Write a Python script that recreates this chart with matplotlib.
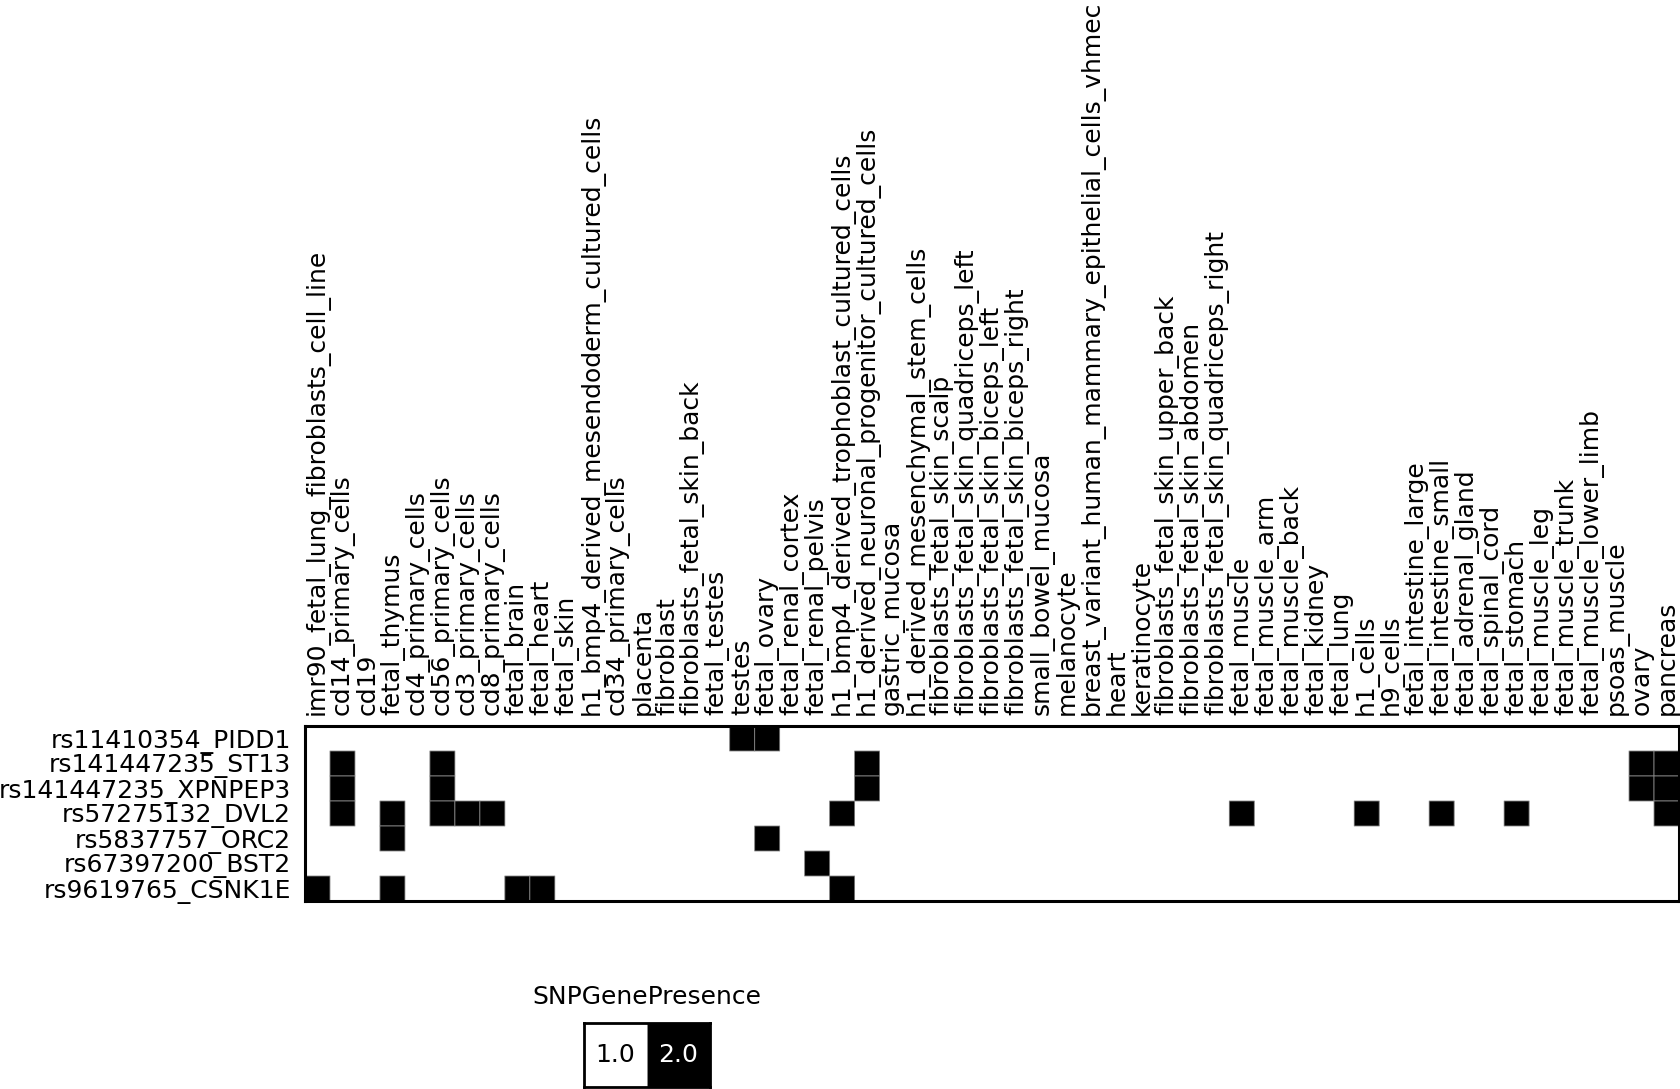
import numpy as np
import matplotlib
matplotlib.use("Agg")
import matplotlib.pyplot as plt
from matplotlib.colors import ListedColormap, BoundaryNorm

rows = ["rs11410354_PIDD1", "rs141447235_ST13", "rs141447235_XPNPEP3",
        "rs57275132_DVL2", "rs5837757_ORC2", "rs67397200_BST2", "rs9619765_CSNK1E"]

cols = ["imr90_fetal_lung_fibroblasts_cell_line", "cd14_primary_cells", "cd19",
        "fetal_thymus", "cd4_primary_cells", "cd56_primary_cells", "cd3_primary_cells",
        "cd8_primary_cells", "fetal_brain", "fetal_heart", "fetal_skin",
        "h1_bmp4_derived_mesendoderm_cultured_cells", "cd34_primary_cells", "placenta",
        "fibroblast", "fibroblasts_fetal_skin_back", "fetal_testes", "testes",
        "fetal_ovary", "fetal_renal_cortex", "fetal_renal_pelvis",
        "h1_bmp4_derived_trophoblast_cultured_cells",
        "h1_derived_neuronal_progenitor_cultured_cells", "gastric_mucosa",
        "h1_derived_mesenchymal_stem_cells", "fibroblasts_fetal_skin_scalp",
        "fibroblasts_fetal_skin_quadriceps_left", "fibroblasts_fetal_skin_biceps_left",
        "fibroblasts_fetal_skin_biceps_right", "small_bowel_mucosa", "melanocyte",
        "breast_variant_human_mammary_epithelial_cells_vhmec", "heart", "keratinocyte",
        "fibroblasts_fetal_skin_upper_back", "fibroblasts_fetal_skin_abdomen",
        "fibroblasts_fetal_skin_quadriceps_right", "fetal_muscle", "fetal_muscle_arm",
        "fetal_muscle_back", "fetal_kidney", "fetal_lung", "h1_cells", "h9_cells",
        "fetal_intestine_large", "fetal_intestine_small", "fetal_adrenal_gland",
        "fetal_spinal_cord", "fetal_stomach", "fetal_muscle_leg", "fetal_muscle_trunk",
        "fetal_muscle_lower_limb", "psoas_muscle", "ovary", "pancreas"]

# tissues where each SNP-gene pair is present (value 2.0); all others are 1.0
present = {
    "rs11410354_PIDD1": ["testes", "fetal_ovary"],
    "rs141447235_ST13": ["cd14_primary_cells", "cd56_primary_cells",
                         "h1_derived_neuronal_progenitor_cultured_cells", "ovary", "pancreas"],
    "rs141447235_XPNPEP3": ["cd14_primary_cells", "cd56_primary_cells",
                            "h1_derived_neuronal_progenitor_cultured_cells", "ovary", "pancreas"],
    "rs57275132_DVL2": ["cd14_primary_cells", "fetal_thymus", "cd56_primary_cells",
                        "cd3_primary_cells", "cd8_primary_cells",
                        "h1_bmp4_derived_trophoblast_cultured_cells", "fetal_muscle",
                        "h1_cells", "fetal_intestine_small", "fetal_stomach", "pancreas"],
    "rs5837757_ORC2": ["fetal_thymus", "fetal_ovary"],
    "rs67397200_BST2": ["fetal_renal_pelvis"],
    "rs9619765_CSNK1E": ["imr90_fetal_lung_fibroblasts_cell_line", "fetal_thymus",
                         "fetal_brain", "fetal_heart",
                         "h1_bmp4_derived_trophoblast_cultured_cells"],
}

legend_values = [1.0, 2.0]
legend_title = "SNPGenePresence"

values = np.ones((len(rows), len(cols)))
for i, r in enumerate(rows):
    for c in present[r]:
        values[i, cols.index(c)] = 2.0

cmap = ListedColormap(["white", "black"])
norm = BoundaryNorm([0.5, 1.5, 2.5], 2)

W, H = 1681, 1089
fig = plt.figure(figsize=(W / 100, H / 100), dpi=100)
ax = fig.add_axes([305 / W, 1 - 901 / H, 1374 / W, 175 / H])

ax.pcolormesh(values, cmap=cmap, norm=norm, edgecolors="none")
masked = np.ma.masked_where(values < 1.5, values)
ax.pcolor(masked, cmap=cmap, norm=norm, edgecolors="#888888", linewidth=0.6)
ax.set_xlim(0, len(cols))
ax.set_ylim(len(rows), 0)

ax.xaxis.tick_top()
ax.set_xticks(np.arange(len(cols)) + 0.5)
ax.set_xticklabels(cols, rotation=90, fontsize=18)
ax.set_yticks(np.arange(len(rows)) + 0.5)
ax.set_yticklabels(rows, fontsize=18)
ax.tick_params(axis="x", length=0, pad=8)
ax.tick_params(axis="y", length=0, pad=10)
for s in ax.spines.values():
    s.set_linewidth(2.2)
    s.set_color("black")

# legend
lax = fig.add_axes([584 / W, 1 - 1087 / H, 126 / W, 64 / H])
leg = np.array([legend_values])
lax.pcolormesh(leg, cmap=cmap, norm=norm, edgecolors="#888888", linewidth=0.6)
lax.set_xlim(0, len(legend_values))
lax.set_ylim(0, 1)
lax.set_xticks([])
lax.set_yticks([])
for j, v in enumerate(legend_values):
    lax.text(j + 0.5, 0.5, f"{v:.1f}", ha="center", va="center", fontsize=18,
             color="black" if v < 1.5 else "white")
for s in lax.spines.values():
    s.set_linewidth(2.0)
lax.set_title(legend_title, fontsize=18, pad=14)

fig.savefig("out.png", dpi=100)
